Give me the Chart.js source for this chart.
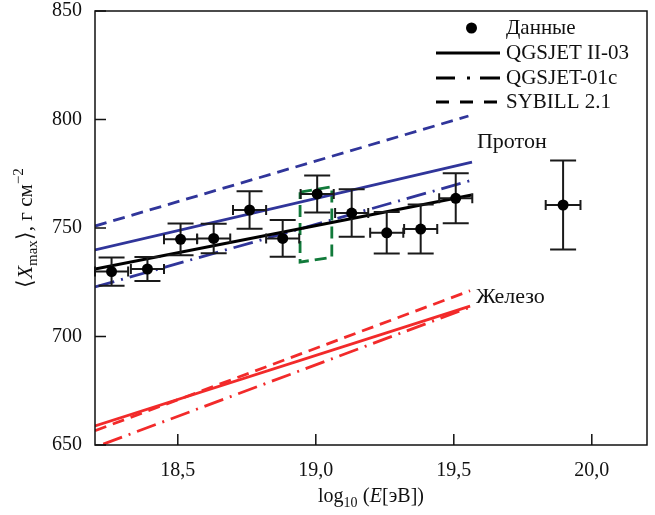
<!DOCTYPE html>
<html>
<head>
<meta charset="utf-8">
<script src="https://cdn.jsdelivr.net/npm/chart.js@4.4.1/dist/chart.umd.min.js"></script>
<style>
  html, body { margin: 0; padding: 0; background: #fff; }
</style>
</head>
<body>
<canvas id="chart" width="655" height="515"></canvas>
<script>
// measured points
const energy    = [18.26, 18.39, 18.51, 18.63, 18.76, 18.88, 19.005, 19.13, 19.257, 19.38, 19.507, 19.896];
const energyErr = [0.06, 0.06, 0.06, 0.06, 0.06, 0.06, 0.06, 0.06, 0.06, 0.06, 0.06, 0.063];
const xmax      = [729.9, 731.1, 744.8, 745.2, 758.3, 745.2, 765.7, 756.9, 747.8, 749.5, 763.7, 760.6];
const xmaxErr   = [6.5, 5.5, 7.3, 6.8, 8.6, 8.5, 8.5, 10.9, 9.6, 11.3, 11.5, 20.5];

const xTicks = [18.5, 19.0, 19.5, 20.0];
const yTicks = [650, 700, 750, 800, 850];

// black fit through the data
const fitX = [18.2, 19.565];
const fitY = [731.1, 765.2];

// proton predictions
const protonQ2X = [18.2, 19.566];
const protonQ2Y = [739.9, 780.4];
const protonQ1X = [18.2, 19.559];
const protonQ1Y = [722.8, 771.8];
const protonSibX = [18.2, 19.553];
const protonSibY = [750.9, 801.6];

// iron predictions
const ironQ2X = [18.2, 19.559];
const ironQ2Y = [658.8, 714.0];
const ironQ1X = [18.23, 19.559];
const ironQ1Y = [650.4, 713.5];
const ironSibX = [18.2, 19.559];
const ironSibY = [656.6, 721.1];

// green dashed box
const boxX = [18.943, 19.058, 19.058, 18.943, 18.943];
const boxY = [766.5, 769.0, 736.5, 734.3, 766.5];

const legendLabels = ['Данные', 'QGSJET II-03', 'QGSJET-01c', 'SYBILL 2.1'];

const SERIF = "'Liberation Serif', 'Times New Roman', serif";
const BLUE = '#30359a';
const RED = '#f22a2a';
const DASH = [12, 7];
const DASHDOT = [20, 7, 2, 7];

const pts = (xs, ys) => xs.map((x, i) => ({ x: x, y: ys[i] }));

function lineSet(xs, ys, color, dash, width) {
  return {
    data: pts(xs, ys),
    showLine: true,
    borderColor: color,
    borderWidth: width || 2.8,
    borderDash: dash,
    borderCapStyle: 'butt',
    pointRadius: 0,
    fill: false,
    order: 2
  };
}

const errorBars = {
  id: 'errorBars',
  beforeDatasetDraw(chart, args) {
    if (args.index !== 0) return;
    const { ctx, scales: { x, y } } = chart;
    ctx.save();
    ctx.strokeStyle = '#1a1a1a';
    ctx.lineWidth = 2;
    energy.forEach((e, i) => {
      const px = x.getPixelForValue(e);
      const x0 = x.getPixelForValue(e - energyErr[i]);
      const x1 = x.getPixelForValue(e + energyErr[i]);
      const py = y.getPixelForValue(xmax[i]);
      const y0 = y.getPixelForValue(xmax[i] + xmaxErr[i]);
      const y1 = y.getPixelForValue(xmax[i] - xmaxErr[i]);
      ctx.beginPath();
      ctx.moveTo(px, y0); ctx.lineTo(px, y1);
      ctx.moveTo(px - 13, y0); ctx.lineTo(px + 13, y0);
      ctx.moveTo(px - 13, y1); ctx.lineTo(px + 13, y1);
      ctx.moveTo(x0, py); ctx.lineTo(x1, py);
      ctx.moveTo(x0, py - 5); ctx.lineTo(x0, py + 5);
      ctx.moveTo(x1, py - 5); ctx.lineTo(x1, py + 5);
      ctx.stroke();
    });
    ctx.restore();
  }
};

const frame = {
  id: 'frame',
  afterDraw(chart) {
    const { ctx, chartArea: a, scales: { x, y } } = chart;
    ctx.save();
    ctx.strokeStyle = '#111';
    ctx.lineWidth = 1.5;
    ctx.strokeRect(a.left, a.top, a.right - a.left, a.bottom - a.top);
    ctx.beginPath();
    xTicks.forEach(v => {
      const px = x.getPixelForValue(v);
      ctx.moveTo(px, a.bottom); ctx.lineTo(px, a.bottom - 11);
    });
    yTicks.forEach(v => {
      const py = y.getPixelForValue(v);
      ctx.moveTo(a.left, py); ctx.lineTo(a.left + 11, py);
    });
    ctx.stroke();

    // labels inside plot
    ctx.fillStyle = '#111';
    ctx.font = '22px ' + SERIF;
    ctx.textBaseline = 'middle';
    ctx.textAlign = 'left';
    ctx.fillText('Протон', x.getPixelForValue(19.584), y.getPixelForValue(789.6));
    ctx.fillText('Железо', x.getPixelForValue(19.58), y.getPixelForValue(718.2));

    // legend
    const rowY = [28, 53, 78, 102];
    const dashes = [null, [], [19, 12, 3, 10, 30], [13, 11]];
    ctx.font = '21px ' + SERIF;
    ctx.strokeStyle = '#000';
    ctx.lineWidth = 2.8;
    legendLabels.forEach((t, i) => {
      if (i === 0) {
        ctx.beginPath();
        ctx.arc(471.5, rowY[i], 5.5, 0, Math.PI * 2);
        ctx.fillStyle = '#000';
        ctx.fill();
      } else {
        ctx.beginPath();
        ctx.setLineDash(dashes[i]);
        ctx.moveTo(436, rowY[i]); ctx.lineTo(500, rowY[i]);
        ctx.stroke();
        ctx.setLineDash([]);
      }
      ctx.fillStyle = '#111';
      ctx.fillText(t, 506, rowY[i]);
    });

    // x axis title: log10 (E[эВ])
    const cx = (a.left + a.right) / 2;
    const by = 502;
    const parts = [
      { t: 'log', f: '20px ' + SERIF, dy: 0 },
      { t: '10', f: '14px ' + SERIF, dy: 5 },
      { t: ' (', f: '21px ' + SERIF, dy: 0 },
      { t: 'E', f: 'italic 20px ' + SERIF, dy: 0 },
      { t: '[эВ])', f: '20px ' + SERIF, dy: 0 }
    ];
    drawParts(ctx, parts, cx, by);

    // y axis title: <X_max>, г см^-2
    ctx.save();
    ctx.translate(32, (a.top + a.bottom) / 2);
    ctx.rotate(-Math.PI / 2);
    const yParts = [
      { t: '⟨', f: '22px ' + SERIF, dy: 0 },
      { t: 'X', f: 'italic 21px ' + SERIF, dy: 0 },
      { t: 'max', f: '15px ' + SERIF, dy: 5 },
      { t: '⟩', f: '22px ' + SERIF, dy: 0 },
      { t: ', г см', f: '21px ' + SERIF, dy: 0 },
      { t: '−2', f: '15px ' + SERIF, dy: -9 }
    ];
    drawParts(ctx, yParts, 0, 0);
    ctx.restore();
    ctx.restore();
  }
};

function drawParts(ctx, parts, cx, by) {
  ctx.textBaseline = 'alphabetic';
  ctx.textAlign = 'left';
  ctx.fillStyle = '#111';
  let total = 0;
  parts.forEach(p => { ctx.font = p.f; p.w = ctx.measureText(p.t).width; total += p.w; });
  let px = cx - total / 2;
  parts.forEach(p => {
    ctx.font = p.f;
    ctx.fillText(p.t, px, by + p.dy);
    px += p.w;
  });
}

new Chart(document.getElementById('chart'), {
  type: 'scatter',
  data: {
    datasets: [
      {
        data: pts(energy, xmax),
        pointRadius: 5.5,
        pointHoverRadius: 5.5,
        backgroundColor: '#000',
        borderWidth: 0,
        order: 0
      },
      lineSet(fitX, fitY, '#000', [], 3.2),
      lineSet(protonQ2X, protonQ2Y, BLUE, []),
      lineSet(protonQ1X, protonQ1Y, BLUE, DASHDOT),
      lineSet(protonSibX, protonSibY, BLUE, DASH),
      lineSet(ironQ2X, ironQ2Y, RED, []),
      lineSet(ironQ1X, ironQ1Y, RED, DASHDOT),
      lineSet(ironSibX, ironSibY, RED, DASH),
      lineSet(boxX, boxY, '#117a3a', [12, 6], 2.8)
    ]
  },
  options: {
    responsive: false,
    devicePixelRatio: 1,
    animation: false,
    layout: { padding: { top: 11, right: 8, left: 0, bottom: 0 } },
    plugins: { legend: { display: false }, tooltip: { enabled: false } },
    scales: {
      x: {
        type: 'linear',
        min: 18.2,
        max: 20.2,
        afterBuildTicks: s => { s.ticks = xTicks.map(v => ({ value: v })); },
        afterFit: s => { s.height = 70; s.paddingLeft = 0; s.paddingRight = 0; },
        grid: { display: false, drawTicks: false },
        border: { display: false },
        ticks: {
          padding: 14,
          color: '#111',
          font: { family: SERIF, size: 20 },
          callback: v => v.toFixed(1).replace('.', ',')
        }
      },
      y: {
        min: 650,
        max: 850,
        afterBuildTicks: s => { s.ticks = yTicks.map(v => ({ value: v })); },
        afterFit: s => { s.width = 95; s.paddingTop = 0; s.paddingBottom = 0; },
        grid: { display: false, drawTicks: false },
        border: { display: false },
        ticks: {
          padding: 13,
          color: '#111',
          font: { family: SERIF, size: 20 },
          callback: v => String(v)
        }
      }
    }
  },
  plugins: [errorBars, frame]
});
</script>
</body>
</html>
